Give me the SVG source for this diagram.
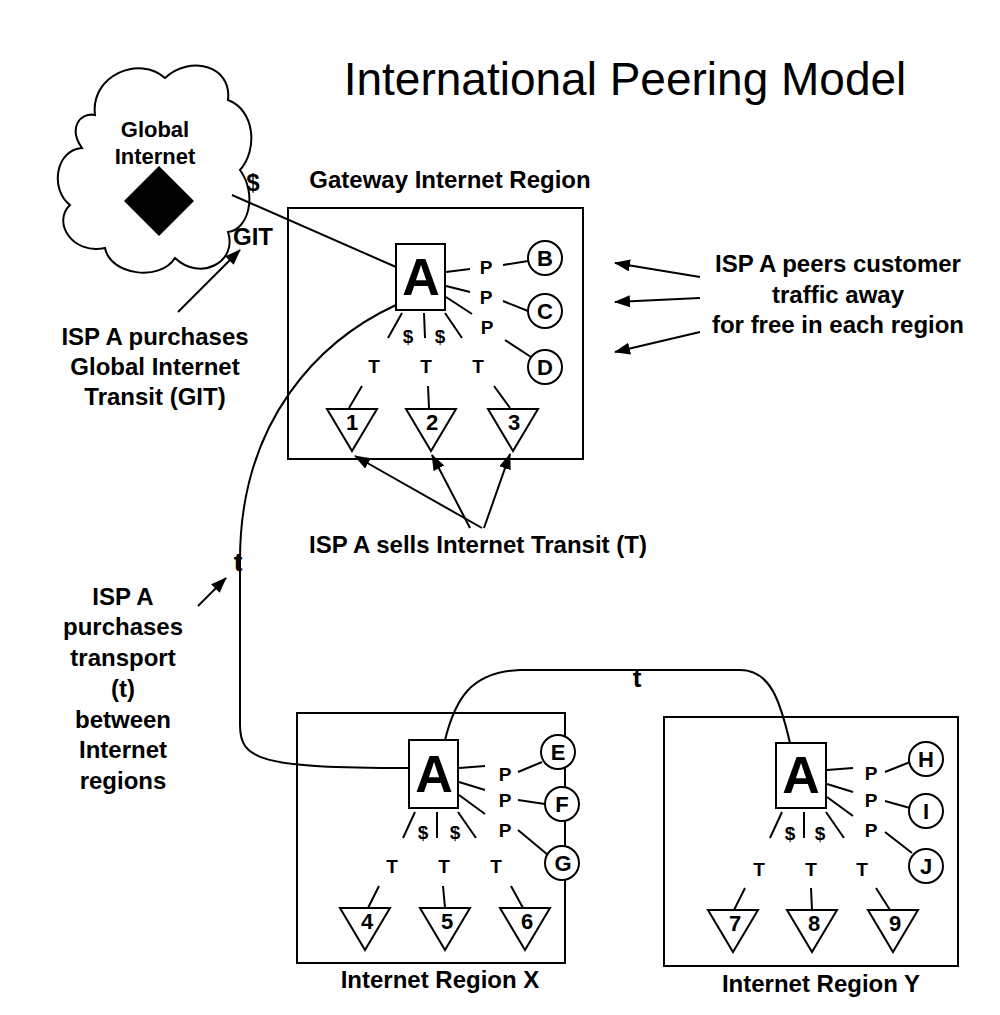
<svg xmlns="http://www.w3.org/2000/svg" width="1000" height="1015" viewBox="0 0 1000 1015">
<style>
text{font-family:"Liberation Sans",Arial,sans-serif;font-weight:bold;fill:#000;text-anchor:middle}
.s{stroke:#000;stroke-width:2;fill:none}
.f{stroke:#000;stroke-width:2;fill:#fff}
.p{font-size:19px}
.l{font-size:24px}
.big{font-size:52px}
.n{font-size:22px}
</style>
<defs><marker id="ah2" markerWidth="16" markerHeight="12" refX="15" refY="6" orient="auto" markerUnits="userSpaceOnUse"><path d="M0,0L16,6L0,12z" fill="#000"/></marker></defs>
<rect width="1000" height="1015" fill="#fff"/>
<text x="625" y="95" style="font-size:46px;font-weight:normal">International Peering Model</text>
<g id="cloud"><path class="f" d="M95,115 C90,75 140,55 165,78 C190,55 232,65 228,100 C255,110 258,150 240,170 C258,195 248,230 228,232 C238,262 200,282 175,258 C160,282 110,275 105,248 C72,255 52,222 70,205 C50,190 55,150 82,148 C68,128 80,112 95,115Z"/>
<text x="155" y="137" class="n">Global</text><text x="155" y="164" class="n">Internet</text>
<path d="M159,166L194,201L159,236L124,201Z" fill="#000"/></g>
<g id="connectors" class="s">
<path d="M232,195L396,267"/>
<path d="M396,305C320,340 240,420 240,560L240,725C240,760 260,768 408,768"/>
<path d="M445,740C455,700 470,672 520,670L740,670C770,670 780,700 790,743"/>
<path d="M178,312L240,250" marker-end="url(#ah2)"/>
<path d="M198,606L226,578" marker-end="url(#ah2)"/>
<path d="M700,277L615,263" marker-end="url(#ah2)"/>
<path d="M700,298L615,302" marker-end="url(#ah2)"/>
<path d="M700,332L615,352" marker-end="url(#ah2)"/>
<path d="M482,528L355,456" marker-end="url(#ah2)"/>
<path d="M470,528L432,455" marker-end="url(#ah2)"/>
<path d="M484,528L510,454" marker-end="url(#ah2)"/>
</g>
<text x="253" y="191" class="l">$</text><text x="253" y="245" class="l">GIT</text>
<text x="155" y="345" class="l">ISP A purchases</text><text x="155" y="375" class="l">Global Internet</text><text x="155" y="405" class="l">Transit (GIT)</text>
<text x="450" y="188" style="font-size:24px">Gateway Internet Region</text>
<text x="838" y="272" class="l">ISP A peers customer</text><text x="838" y="303" class="l">traffic away</text><text x="838" y="333" class="l">for free in each region</text>
<text x="478" y="553" class="l">ISP A sells Internet Transit (T)</text>
<text x="238" y="571" class="l" style="font-size:26px">t</text>
<text x="637" y="687" class="l" style="font-size:26px">t</text>
<g class="l"><text x="123" y="605">ISP A</text><text x="123" y="635">purchases</text><text x="123" y="666">transport</text><text x="123" y="697">(t)</text><text x="123" y="728">between</text><text x="123" y="758">Internet</text><text x="123" y="789">regions</text></g>

<g id="gateway">
<rect class="s" x="288" y="208" width="295" height="251"/>
<rect class="f" x="396" y="244" width="49" height="66"/><text x="421" y="295" class="big">A</text>
<g class="s"><path d="M446,272L470,269M446,286L470,292M446,297L472,314M503,265L528,261M503,301L528,311M505,340L531,357M402,313L388,338M424,313L425,338M445,313L462,338M362,386L349,408M428,386L429,408M494,386L510,408"/></g>
<text x="486" y="274" class="p">P</text><text x="486" y="304" class="p">P</text><text x="487" y="334" class="p">P</text>
<text x="408" y="343" class="p">$</text><text x="440" y="343" class="p">$</text>
<text x="374" y="373" class="p">T</text><text x="426" y="373" class="p">T</text><text x="478" y="373" class="p">T</text>
<circle class="f" cx="545" cy="258" r="17"/><text x="545" y="266" class="n">B</text>
<circle class="f" cx="545" cy="311" r="17"/><text x="545" y="319" class="n">C</text>
<circle class="f" cx="545" cy="367" r="17"/><text x="545" y="375" class="n">D</text>
<path class="f" d="M327,409L377,409L352,451Z"/><text x="352" y="430" class="n">1</text>
<path class="f" d="M406,409L456,409L431,451Z"/><text x="432" y="430" class="n">2</text>
<path class="f" d="M488,409L538,409L513,451Z"/><text x="514" y="430" class="n">3</text>
</g>

<g id="regionX">
<rect class="s" x="297" y="713" width="268" height="250"/>
<rect class="f" x="409" y="740" width="49" height="68"/><text x="434" y="792" class="big">A</text>
<g class="s"><path d="M459,768L485,766M459,782L485,790M459,795L485,814M518,772L542,762M518,800L545,804M518,830L548,855M415,812L403,838M437,812L437,838M458,812L476,838M379,886L368,908M443,886L445,908M511,886L523,908"/></g>
<text x="505" y="781" class="p">P</text><text x="505" y="807" class="p">P</text><text x="505" y="837" class="p">P</text>
<text x="423" y="839" class="p">$</text><text x="455" y="839" class="p">$</text>
<text x="392" y="873" class="p">T</text><text x="444" y="873" class="p">T</text><text x="496" y="873" class="p">T</text>
<circle class="f" cx="558" cy="752" r="17"/><text x="558" y="760" class="n">E</text>
<circle class="f" cx="562" cy="804" r="17"/><text x="562" y="812" class="n">F</text>
<circle class="f" cx="562" cy="863" r="17"/><text x="563" y="871" class="n">G</text>
<path class="f" d="M340,908L390,908L365,950Z"/><text x="367" y="929" class="n">4</text>
<path class="f" d="M420,908L470,908L445,950Z"/><text x="447" y="929" class="n">5</text>
<path class="f" d="M500,908L550,908L525,950Z"/><text x="527" y="929" class="n">6</text>
<text x="440" y="988" class="l">Internet Region X</text>
</g>

<g id="regionY">
<rect class="s" x="664" y="717" width="294" height="249"/>
<rect class="f" x="776" y="743" width="50" height="65"/><text x="801" y="793" class="big">A</text>
<g class="s"><path d="M827,770L853,768M827,784L853,792M827,797L853,816M885,772L910,762M885,801L910,808M885,832L912,853M782,812L770,838M804,812L804,838M826,812L844,838M745,888L734,910M811,888L812,910M876,888L890,910"/></g>
<text x="871" y="780" class="p">P</text><text x="871" y="807" class="p">P</text><text x="871" y="837" class="p">P</text>
<text x="790" y="840" class="p">$</text><text x="820" y="840" class="p">$</text>
<text x="759" y="876" class="p">T</text><text x="811" y="876" class="p">T</text><text x="862" y="876" class="p">T</text>
<circle class="f" cx="926" cy="759" r="17"/><text x="926" y="767" class="n">H</text>
<circle class="f" cx="926" cy="811" r="17"/><text x="926" y="819" class="n">I</text>
<circle class="f" cx="926" cy="866" r="17"/><text x="926" y="874" class="n">J</text>
<path class="f" d="M708,910L758,910L733,952Z"/><text x="735" y="931" class="n">7</text>
<path class="f" d="M787,910L837,910L812,952Z"/><text x="814" y="931" class="n">8</text>
<path class="f" d="M868,910L918,910L893,952Z"/><text x="895" y="931" class="n">9</text>
<text x="821" y="992" class="l">Internet Region Y</text>
</g>
</svg>
